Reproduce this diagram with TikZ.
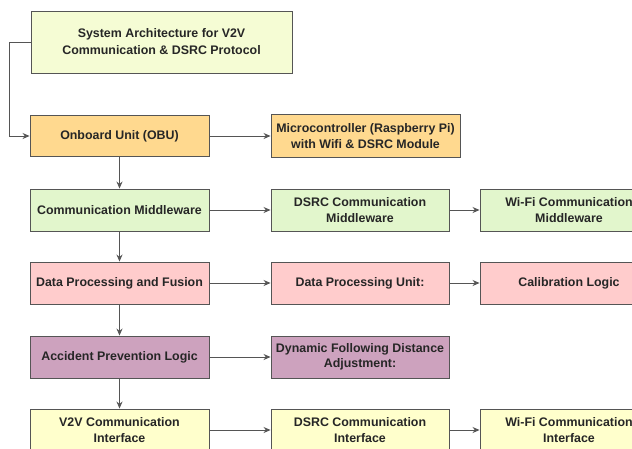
\documentclass[tikz,border=0pt]{standalone}
\usepackage{fontspec}
\setmainfont{Liberation Sans}
\usetikzlibrary{arrows.meta}
\definecolor{sysfill}{HTML}{F5FCD4}
\definecolor{obufill}{HTML}{FFD98F}
\definecolor{midfill}{HTML}{E2F6CC}
\definecolor{datafill}{HTML}{FFCCCC}
\definecolor{safefill}{HTML}{CDA2BE}
\definecolor{ifacefill}{HTML}{FFFFCC}
\definecolor{linegray}{HTML}{555555}
\definecolor{textgray}{HTML}{262626}
\begin{document}
\begin{tikzpicture}[x=1pt,y=-1pt,
    box/.style={draw=linegray, line width=0.9pt, text=textgray,
        font=\bfseries\fontsize{12.4}{15.5}\selectfont, align=center,
        minimum width=178pt, minimum height=42pt, inner sep=2pt},
    link/.style={-{Stealth[length=7pt,width=6pt]}, line width=0.9pt, draw=linegray}]
    \useasboundingbox (0,0) rectangle (632,448);
    \clip (0,0) rectangle (632,448);
    \fill[white] (0,0) rectangle (632,448);

    % title
    \node[box, fill=sysfill, minimum width=261pt, minimum height=62pt,
        font=\bfseries\fontsize{12.4}{17}\selectfont] (sys) at (161.5,42)
        {System Architecture for V2V\\Communication \& DSRC Protocol};

    % left column
    \node[box, fill=obufill, minimum width=179pt, minimum height=41pt] (obu) at (119.5,136) {Onboard Unit (OBU)};
    \node[box, fill=midfill, minimum width=179pt] (mid) at (119.5,210) {Communication Middleware};
    \node[box, fill=datafill, minimum width=179pt] (fusion) at (119.5,283) {Data Processing and Fusion};
    \node[box, fill=safefill, minimum width=179pt] (logic) at (119.5,357) {Accident Prevention Logic};
    \node[box, fill=ifacefill, minimum width=179pt] (v2v) at (119.5,430) {V2V Communication\\Interface};

    % middle column
    \node[box, fill=obufill, minimum width=189pt, minimum height=43pt] (mcu) at (365.5,136)
        {Microcontroller (Raspberry Pi)\\with Wifi \& DSRC Module};
    \node[box, fill=midfill] (dsrcmid) at (360,210) {DSRC Communication\\Middleware};
    \node[box, fill=datafill] (dpu) at (360,283) {Data Processing Unit:};
    \node[box, fill=safefill] (dist) at (360,357) {Dynamic Following Distance\\Adjustment:};
    \node[box, fill=ifacefill] (dsrcif) at (360,430) {DSRC Communication\\Interface};

    % right column
    \node[box, fill=midfill] (wifimid) at (569,210) {Wi-Fi Communication\\Middleware};
    \node[box, fill=datafill] (calib) at (569,283) {Calibration Logic};
    \node[box, fill=ifacefill] (wifiif) at (569,430) {Wi-Fi Communication\\Interface};

    % connectors
    \draw[link] (sys.west) -- ++(-21,0) |- (obu.west);
    \draw[link] (obu) -- (mid);
    \draw[link] (mid) -- (fusion);
    \draw[link] (fusion) -- (logic);
    \draw[link] (logic) -- (v2v);
    \draw[link] (obu) -- (mcu);
    \draw[link] (mid) -- (dsrcmid);
    \draw[link] (fusion) -- (dpu);
    \draw[link] (logic) -- (dist);
    \draw[link] (v2v) -- (dsrcif);
    \draw[link] (dsrcmid) -- (wifimid);
    \draw[link] (dpu) -- (calib);
    \draw[link] (dsrcif) -- (wifiif);
\end{tikzpicture}
\end{document}
